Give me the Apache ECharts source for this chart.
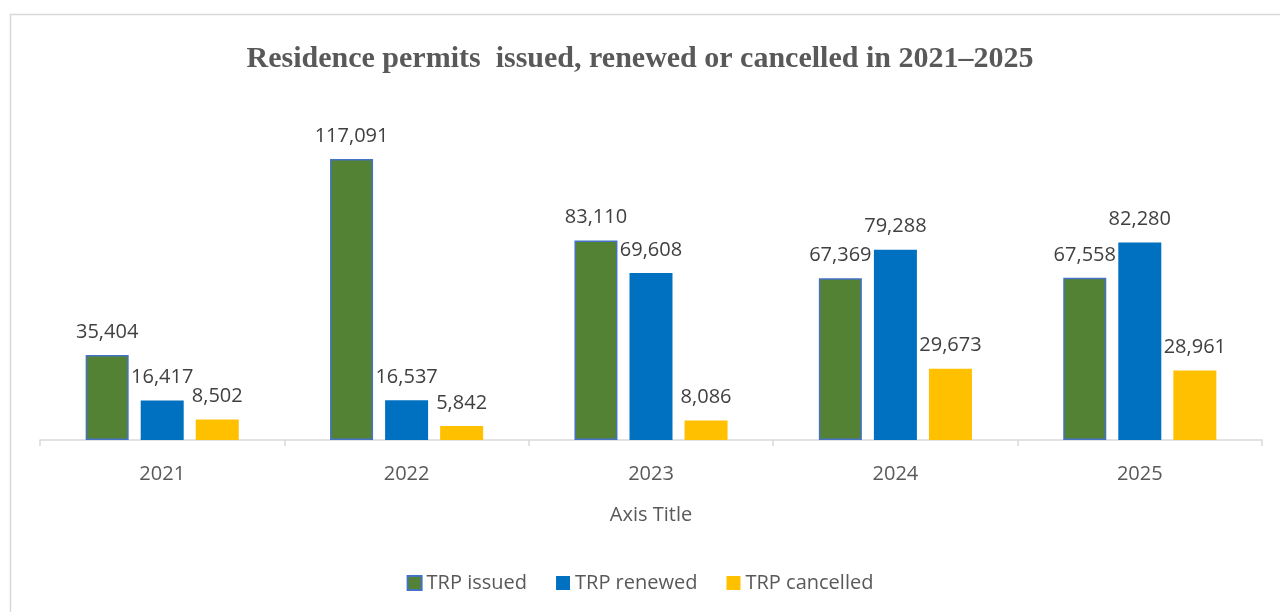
<!DOCTYPE html>
<html>
<head>
<meta charset="utf-8">
<script src="https://cdn.jsdelivr.net/npm/echarts@6/dist/echarts.min.js"></script>
<style>
html,body{margin:0;padding:0;background:#fff;}
#chart{width:1280px;height:612px;}
</style>
</head>
<body>
<div id="chart"></div>
<script>
const categories = ['2021', '2022', '2023', '2024', '2025'];
const trpIssued = [35404, 117091, 83110, 67369, 67558];
const trpRenewed = [16417, 16537, 69608, 79288, 82280];
const trpCancelled = [8502, 5842, 8086, 29673, 28961];
const seriesNames = ['TRP issued', 'TRP renewed', 'TRP cancelled'];

const chart = echarts.init(document.getElementById('chart'));
const labelCfg = {
  show: true,
  position: 'top',
  distance: 13,
  fontFamily: 'Open Sans',
  fontSize: 20,
  color: '#404040',
  formatter: p => p.value.toLocaleString('en-US')
};
chart.setOption({
  animation: false,
  backgroundColor: '#fff',
  graphic: [{
    type: 'rect',
    shape: { x: 10.5, y: 14.5, width: 1300, height: 640 },
    style: { fill: 'none', stroke: '#d9d9d9', lineWidth: 1.5 },
    silent: true
  }],
  title: {
    text: 'Residence permits  issued, renewed or cancelled in 2021\u20132025',
    left: 'center',
    top: 39,
    textStyle: {
      fontFamily: 'Liberation Serif',
      fontWeight: 'bold',
      fontSize: 30,
      color: '#595959'
    }
  },
  legend: {
    data: seriesNames,
    bottom: 14,
    left: 'center',
    icon: 'rect',
    itemWidth: 14,
    itemHeight: 14,
    itemGap: 29,
    textStyle: { fontFamily: 'Open Sans', fontSize: 20, color: '#595959' }
  },
  grid: { left: 40, right: 18, top: 104, bottom: 172 },
  xAxis: {
    type: 'category',
    data: categories,
    name: 'Axis Title',
    nameLocation: 'middle',
    nameGap: 65,
    nameTextStyle: { fontFamily: 'Open Sans', fontSize: 20, color: '#595959' },
    axisLine: { lineStyle: { color: '#d9d9d9', width: 1.5 } },
    axisTick: { show: true, length: 6, lineStyle: { color: '#d9d9d9', width: 1.5 } },
    axisLabel: { fontFamily: 'Open Sans', fontSize: 20, color: '#595959', margin: 24 }
  },
  yAxis: {
    type: 'value',
    min: 0,
    max: 140000,
    interval: 20000,
    show: false,
    splitLine: { show: false }
  },
  series: [
    {
      name: seriesNames[0], type: 'bar', data: trpIssued,
      barWidth: 43, barGap: '28%',
      itemStyle: { color: '#548235', borderColor: '#4472C4', borderWidth: 1.5 },
      label: labelCfg
    },
    {
      name: seriesNames[1], type: 'bar', data: trpRenewed,
      barWidth: 43, barGap: '28%',
      itemStyle: { color: '#0070C0' },
      label: labelCfg
    },
    {
      name: seriesNames[2], type: 'bar', data: trpCancelled,
      barWidth: 43, barGap: '28%',
      itemStyle: { color: '#FFC000' },
      label: labelCfg
    }
  ]
});
</script>
</body>
</html>
